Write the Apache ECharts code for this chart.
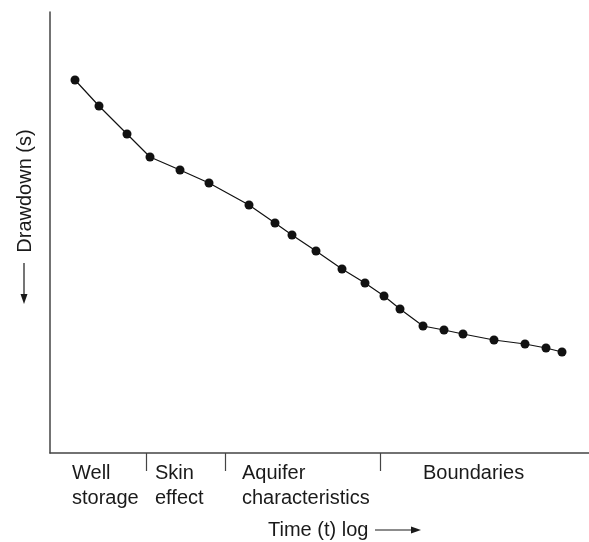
<!DOCTYPE html>
<html>
<head>
<meta charset="utf-8">
<script src="https://cdn.jsdelivr.net/npm/echarts@6/dist/echarts.min.js"></script>
<style>
  html, body { margin: 0; padding: 0; background: #fff; }
  #chart { width: 589px; height: 542px; }
</style>
</head>
<body>
<div id="chart"></div>
<script>
// time (log scale, arbitrary units from the axis origin)
var timeLog = [25, 49, 77, 100, 130, 159, 199, 225, 242, 266, 292, 315, 334, 350, 373, 394, 413, 444, 475, 496, 512]
// drawdown (arbitrary units, increasing downwards)
var drawdown = [68, 94, 122, 145, 158, 171, 193, 211, 223, 239, 257, 271, 284, 297, 314, 318, 322, 328, 332, 336, 340]
// boundaries between flow regimes along the time axis
var regimeBreaks = [96, 175, 330]
// regime labels and where each one starts
var regimeStarts = [22, 105, 192, 373]
var regimeNames = ['Well\nstorage', 'Skin\neffect', 'Aquifer\ncharacteristics', 'Boundaries']

var points = timeLog.map(function (t, i) {
    return [t, drawdown[i]]
})

var chart = echarts.init(document.getElementById('chart'))
var font = '"Liberation Sans", Arial, sans-serif'
var ink = '#1a1a1a'

var option = {
    animation: false,
    grid: { left: 50, right: 0, top: 12, bottom: 89 },
    xAxis: {
        type: 'value',
        position: 'bottom',
        min: 0,
        max: 539,
        axisLine: { show: true, onZero: false, lineStyle: { color: '#444', width: 1.5 } },
        axisTick: {
            show: true,
            length: 18,
            customValues: regimeBreaks,
            lineStyle: { color: '#444', width: 1.2 }
        },
        axisLabel: {
            show: true,
            customValues: regimeStarts,
            align: 'left',
            margin: 8,
            fontFamily: font,
            fontSize: 20,
            lineHeight: 25,
            color: ink,
            formatter: function (v) {
                var i = regimeStarts.indexOf(v)
                return i >= 0 ? regimeNames[i] : ''
            }
        },
        splitLine: { show: false }
    },
    yAxis: {
        type: 'value',
        min: 0,
        max: 441,
        inverse: true,
        axisLine: { show: true, onZero: false, lineStyle: { color: '#444', width: 1.5 } },
        axisTick: { show: false },
        axisLabel: { show: false },
        splitLine: { show: false }
    },
    series: [
        {
            type: 'line',
            data: points,
            symbol: 'circle',
            symbolSize: 9,
            itemStyle: { color: '#111' },
            lineStyle: { color: '#111', width: 1.2 }
        }
    ],
    graphic: [
        // x axis title with arrow
        {
            type: 'text',
            x: 268,
            y: 530,
            style: { text: 'Time (t) log', font: '20px ' + font, fill: ink, verticalAlign: 'middle', align: 'left' }
        },
        { type: 'line', shape: { x1: 375, y1: 530, x2: 414, y2: 530 }, style: { stroke: ink, lineWidth: 1.2 } },
        { type: 'polygon', shape: { points: [[421, 530], [411, 526.5], [411, 533.5]] }, style: { fill: ink } },
        // y axis title with arrow
        {
            type: 'text',
            x: 25,
            y: 191,
            rotation: Math.PI / 2,
            style: { text: 'Drawdown (s)', font: '20px ' + font, fill: ink, verticalAlign: 'middle', align: 'center' }
        },
        { type: 'line', shape: { x1: 24, y1: 263, x2: 24, y2: 297 }, style: { stroke: ink, lineWidth: 1.2 } },
        { type: 'polygon', shape: { points: [[24, 304], [20.5, 294], [27.5, 294]] }, style: { fill: ink } }
    ]
}

chart.setOption(option)
</script>
</body>
</html>
